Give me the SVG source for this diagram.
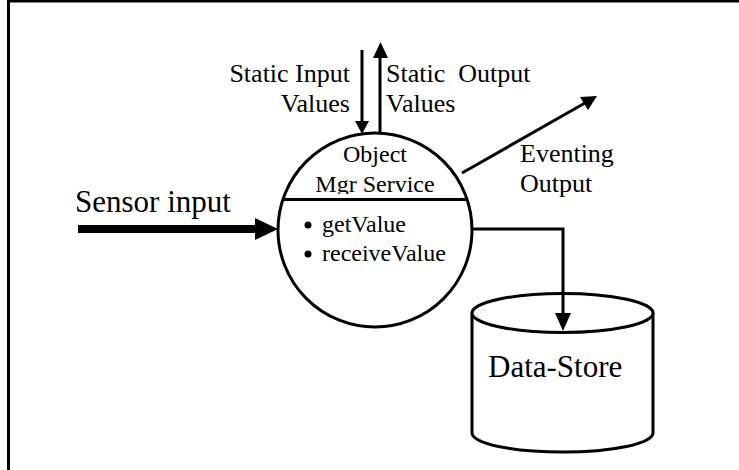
<svg xmlns="http://www.w3.org/2000/svg" width="739" height="470" viewBox="0 0 739 470">
<style>
text{font-family:"Liberation Serif","Times New Roman",serif;fill:#000}
.lbl{font-size:26px}
.in{font-size:24px}
.big{font-size:31px}
.ln{stroke:#000;stroke-width:3;fill:none}
.shape{stroke:#000;stroke-width:3;fill:#fff}
.head{fill:#000}
</style>
<defs>
<clipPath id="mgrclip"><rect x="280" y="140" width="190" height="54"/></clipPath>
</defs>
<rect width="739" height="470" fill="#fff"/>
<path d="M8.5,470 V1 H739" class="ln"/>
<g id="labels">
<text class="lbl" x="350" y="82" text-anchor="end">Static Input</text>
<text class="lbl" x="350" y="112" text-anchor="end">Values</text>
<text class="lbl" x="386" y="82" xml:space="preserve">Static  Output</text>
<text class="lbl" x="386" y="112">Values</text>
<text class="lbl" x="520" y="162">Eventing</text>
<text class="lbl" x="520" y="192">Output</text>
<text class="big" x="75" y="212">Sensor input</text>
</g>
<g id="service">
<circle cx="375" cy="230" r="97" class="shape"/>
<line x1="282" y1="199.5" x2="468" y2="199.5" class="ln"/>
<text class="in" x="375" y="162" text-anchor="middle">Object</text>
<text class="in" x="375" y="192" text-anchor="middle" clip-path="url(#mgrclip)">Mgr Service</text>
<circle cx="308" cy="225" r="3.5" fill="#000"/>
<text class="in" x="322" y="232">getValue</text>
<circle cx="308" cy="254" r="3.5" fill="#000"/>
<text class="in" x="322" y="261">receiveValue</text>
</g>
<g id="datastore">
<path d="M472,313 V433 A90.5,19 0 0 0 653,433 V313" class="shape"/>
<ellipse cx="562.5" cy="313" rx="90.5" ry="19.5" class="shape"/>
<text class="big" x="488" y="377">Data-Store</text>
</g>
<g id="connectors">
<line x1="362" y1="50" x2="362" y2="121" class="ln"/>
<path d="M355,121 L369,121 L362,134 z" class="head"/>
<line x1="380" y1="134" x2="380" y2="58" class="ln"/>
<path d="M373,58 L388,58 L380.5,42 z" class="head"/>
<line x1="462" y1="173" x2="585" y2="103" class="ln"/>
<path d="M597,96 L580,97 L588,110 z" class="head"/>
<line x1="78" y1="229" x2="256" y2="229" stroke="#000" stroke-width="8"/>
<path d="M255,218 L278,229 L255,240 z" class="head"/>
<path d="M472,229 H563 V314" class="ln"/>
<path d="M555,313 L571,313 L563,331 z" class="head"/>
</g>
</svg>
